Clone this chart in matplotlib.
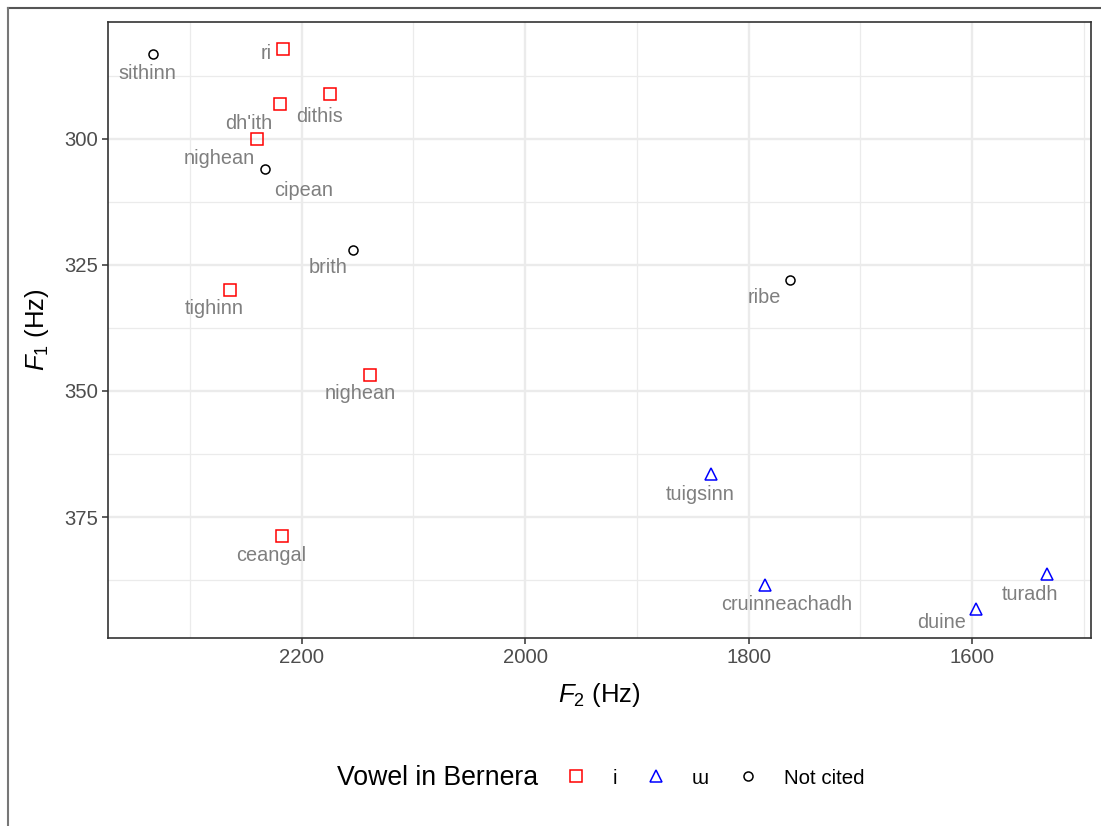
import numpy as np
import matplotlib
matplotlib.use("Agg")
import matplotlib.pyplot as plt
from matplotlib.lines import Line2D

plt.rcParams['font.family'] = ['Liberation Sans', 'DejaVu Sans']
plt.rcParams['mathtext.fontset'] = 'custom'
plt.rcParams['mathtext.rm'] = 'Liberation Sans'
plt.rcParams['mathtext.it'] = 'Liberation Sans:italic'

# Data
words = ["sithinn", "ri", "dh'ith", "dithis", "nighean", "cipean", "brith",
         "tighinn", "nighean", "ribe", "tuigsinn", "ceangal", "cruinneachadh",
         "duine", "turadh"]
f2 = [2333, 2217, 2219, 2175, 2240, 2233, 2154,
      2264, 2139, 1763, 1834, 2218, 1785, 1597, 1533]
f1 = [283.2, 282.2, 293.1, 291.1, 300.1, 306.0, 322.0,
      329.9, 346.8, 328.0, 366.5, 378.8, 388.4, 393.3, 386.3]
vowel = ["Not cited", "i", "i", "i", "i", "Not cited", "Not cited",
         "i", "i", "Not cited", "ɯ", "i", "ɯ", "ɯ", "ɯ"]

# label offsets in pixels (dx, dy downwards), repel-style placement
offs = [(-6, 19), (-16, 4), (-32, 19), (-10, 22), (-38, 19), (39, 21), (-25, 18),
        (-16, 19), (-10, 19), (-26, 17), (-11, 20), (-10, 19), (21, 20),
        (-34, 13), (-17, 21)]

groups = ["i", "ɯ", "Not cited"]
gstyle = {"i": ("s", "red", 8), "ɯ": ("^", "blue", 9), "Not cited": ("o", "black", 6.5)}

fontl = 14.3
grey30 = "#4D4D4D"

fig = plt.figure(figsize=(11.01, 8.26), dpi=100)
ax = fig.add_axes([0.0981, 0.2276, 0.8925, 0.7458])

f2a = np.array(f2)
f1a = np.array(f1)
va = np.array(vowel)
for g in groups:
    m, c, s = gstyle[g]
    sel = va == g
    ax.plot(f2a[sel], f1a[sel], m, ls='none', mfc='none', mec=c, ms=s, mew=1.1,
            label=g, zorder=3)

for w, x, y, (dx, dy) in zip(words, f2, f1, offs):
    ax.annotate(w, xy=(x, y), xytext=(dx, -dy), textcoords='offset pixels',
                ha='center', va='center', fontsize=fontl, color='#7F7F7F', zorder=4)

ax.set_xlim(2373.3, 1494)
ax.set_ylim(399.0, 276.8)
ax.set_xticks([2200, 2000, 1800, 1600])
ax.set_xticks([2300, 2100, 1900, 1700, 1500], minor=True)
ax.set_yticks([300, 325, 350, 375])
ax.set_yticks([287.5, 312.5, 337.5, 362.5, 387.5], minor=True)
ax.grid(which='major', color='#EBEBEB', lw=1.7)
ax.grid(which='minor', color='#EBEBEB', lw=0.9)
ax.set_axisbelow(True)
ax.tick_params(which='major', length=4, width=1.1, color='#333333',
               labelsize=14.6, labelcolor=grey30, pad=3)
ax.tick_params(which='minor', length=0)
for sp in ax.spines.values():
    sp.set_color('#333333')
    sp.set_linewidth(1.2)

ax.set_xlabel(r"$F_2$ (Hz)", fontsize=18.5, labelpad=10)
ax.set_ylabel(r"$F_1$ (Hz)", fontsize=18.5, labelpad=10)

# legend at the bottom, title on the left
fig.text(337 / 1101, 1 - 778 / 826, "Vowel in Bernera", fontsize=19.2,
         ha='left', va='center')
fig.legend(loc='center left', bbox_to_anchor=(566 / 1101, 1 - 778 / 826),
           ncol=3, frameon=False, fontsize=14.8, handlelength=1.0,
           handletextpad=1.25, columnspacing=1.4, borderpad=0, borderaxespad=0)

# outer frame lines from the screenshot
fig.add_artist(Line2D([8 / 1101, 1], [1 - 7.7 / 826, 1 - 7.7 / 826],
                      transform=fig.transFigure, color='#555555', lw=1.5))
fig.add_artist(Line2D([8.3 / 1101, 8.3 / 1101], [0, 1 - 7.7 / 826],
                      transform=fig.transFigure, color='#777777', lw=1.5))

fig.savefig('out.png', dpi=100)
plt.close(fig)
